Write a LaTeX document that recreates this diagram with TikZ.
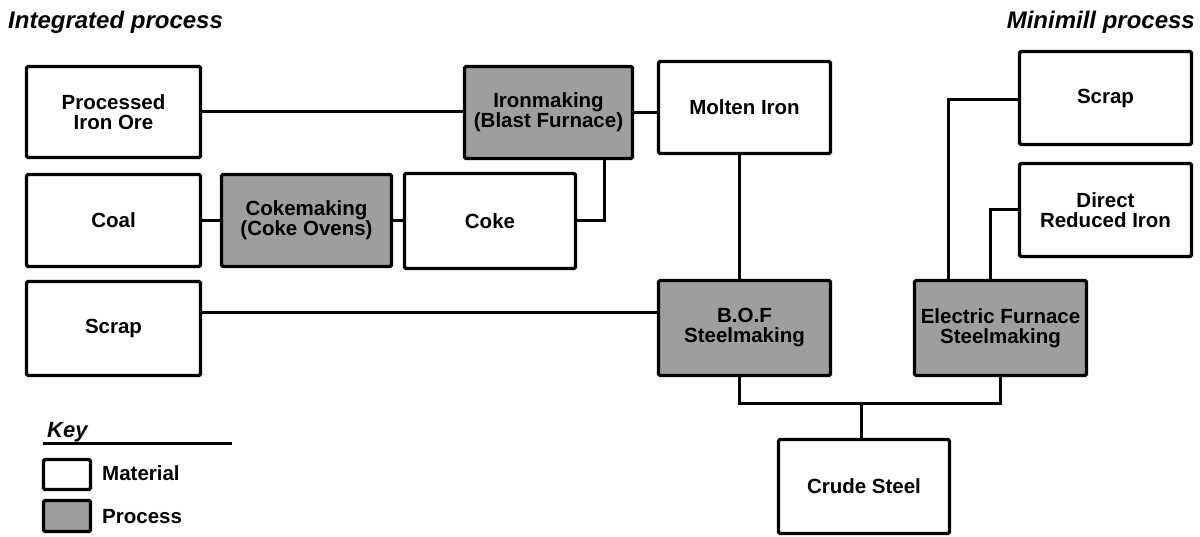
\documentclass[tikz,border=0pt]{standalone}
\usepackage{fontspec}
\setmainfont{Liberation Sans}
\begin{document}
\begin{tikzpicture}[x=1pt,y=-1pt,
  box/.style={draw, line width=3.4pt, rounded corners=1.5pt, inner sep=0pt, align=center,
    font=\bfseries\fontsize{20.5}{20}\selectfont},
  mat/.style={box, fill=white},
  proc/.style={box, fill=black!38},
  link/.style={line width=3pt},
  title/.style={font=\bfseries\itshape\fontsize{24}{26}\selectfont, inner sep=0pt},
  keytext/.style={font=\bfseries\fontsize{20.5}{22}\selectfont, inner sep=0pt, anchor=west}]
\useasboundingbox (0,0) rectangle (1200,537);
\fill[white] (0,0) rectangle (1200,537);

% titles
\node[title, anchor=base west] (tint) at (8,29) {Integrated process};
\node[title, anchor=base east] (tmin) at (1195,29) {Minimill process};

% boxes
\node[mat, minimum width=174pt, minimum height=91pt] (pio) at (113.5,112) {Processed\\Iron Ore};
\node[proc, minimum width=168pt, minimum height=92pt] (iron) at (548.5,112.5) {Ironmaking\\(Blast Furnace)};
\node[mat, minimum width=172pt, minimum height=92pt] (molten) at (744.5,107.5) {Molten Iron};
\node[mat, minimum width=174pt, minimum height=92pt] (coal) at (113.5,220.5) {Coal};
\node[proc, minimum width=170pt, minimum height=92pt] (ovens) at (306.5,220.5) {Cokemaking\\(Coke Ovens)};
\node[mat, minimum width=171pt, minimum height=95pt] (coke) at (490,221) {Coke};
\node[mat, minimum width=174pt, minimum height=94pt] (scrapl) at (113.5,328.5) {Scrap};
\node[proc, minimum width=172pt, minimum height=95pt] (bof) at (744.5,328) {B.O.F\\Steelmaking};
\node[proc, minimum width=172pt, minimum height=95pt] (ef) at (1000.5,328) {Electric Furnace\\Steelmaking};
\node[mat, minimum width=172pt, minimum height=93pt] (scrapr) at (1105.5,98) {Scrap};
\node[mat, minimum width=172pt, minimum height=93pt] (dri) at (1105.5,210) {Direct\\Reduced Iron};
\node[mat, minimum width=171pt, minimum height=94pt] (crude) at (864,486.5) {Crude Steel};

% connectors
\draw[link] (pio.east) -- (iron.west |- pio.east);
\draw[link] (iron.east) -- (molten.west |- iron.east);
\draw[link] (coal.east) -- (ovens.west);
\draw[link] (ovens.east) -- (coke.west |- ovens.east);
\draw[link] (coke.east) -| ([xshift=55.5pt]iron.south);
\draw[link] ([xshift=-5pt]molten.south) -- ([xshift=-5pt]molten.south |- bof.north);
\coordinate (sl) at ([yshift=16pt]scrapl.east);
\draw[link] (sl) -- (bof.west |- sl);
\coordinate (bus) at ([xshift=-5.5pt,yshift=-26pt]bof.south);
\draw[link] ([xshift=-5.5pt]bof.south) -- (bus) -| (ef.south);
\draw[link] ([xshift=-3pt]crude.north) -- ([xshift=-3pt]crude.north |- bus);
\draw[link] ([yshift=-2pt]scrapr.west) -| ([xshift=-52.5pt]ef.north);
\draw[link] (dri.west) -| ([xshift=-10pt]ef.north);

% key
\node[font=\bfseries\itshape\fontsize{22}{24}\selectfont, inner sep=0pt, anchor=base west] (key) at (47,437) {Key};
\coordinate (kl) at (43,443);
\coordinate (kr) at (232,443);
\draw[line width=3pt] (kl) -- (kr);
\node[mat, minimum width=47pt, minimum height=30pt] (kmat) at (67,474.5) {};
\node[proc, minimum width=47pt, minimum height=31pt] (kproc) at (67,516) {};
\node[keytext] (lmat) at (102,473) {Material};
\node[keytext] (lproc) at (102,517) {Process};
\end{tikzpicture}
\end{document}
